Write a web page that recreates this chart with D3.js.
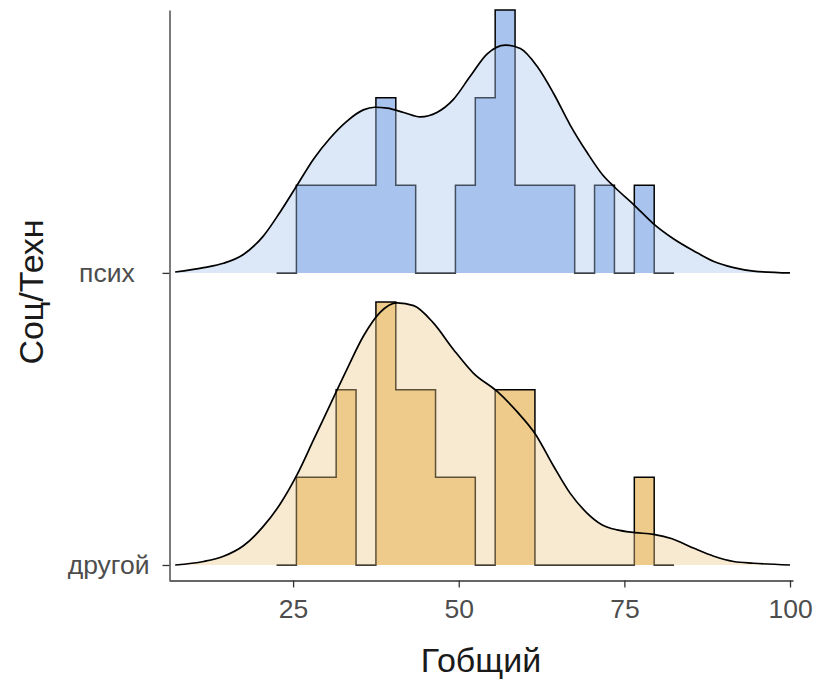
<!DOCTYPE html>
<html>
<head>
<meta charset="utf-8">
<script src="https://cdn.jsdelivr.net/npm/d3@7"></script>
<style>
  body { margin: 0; background: #fff; }
  text { font-family: "Liberation Sans", Arial, sans-serif; }
</style>
</head>
<body>
<div id="chart"></div>
<script>
// groups, bottom to top
const groups = ['другой', 'псих'];
const groupLabels = ['другой', 'псих  '];
const groupFill = ['#eecb8a', '#a8c4ee'];

// histogram (binline), binwidth 3, with empty pad bins at both ends
const binEdges = [22.5, 25.5, 28.5, 31.5, 34.5, 37.5, 40.5, 43.5, 46.5, 49.5, 52.5,
                  55.5, 58.5, 61.5, 64.5, 67.5, 70.5, 73.5, 76.5, 79.5, 82.5];
const countsOther = [0, 1, 1, 2, 0, 3, 2, 2, 1, 1, 0, 2, 2, 0, 0, 0, 0, 0, 1, 0];
const countsPsych = [0, 1, 1, 1, 1, 2, 1, 0, 0, 1, 2, 3, 1, 1, 1, 0, 1, 0, 1, 0];

// density ridges (height in histogram-count units)
const densXOther = [7.2, 11.5, 14.5, 17.5, 20.5, 23, 25.6, 28.1, 30.6, 33.1, 35.6, 38.1, 40.7,
                    43.2, 46.2, 49.2, 52.2, 55.8, 58.8, 61.6, 64.3, 66.8, 69.4, 71.6, 73.9,
                    76.6, 79.4, 82.2, 85.5, 88.5, 91.5, 94.5, 100];
const densOther = [0, 0.04, 0.10, 0.22, 0.44, 0.69, 1.03, 1.43, 1.83, 2.23, 2.61, 2.88, 2.99,
                   2.96, 2.76, 2.46, 2.19, 1.98, 1.75, 1.49, 1.13, 0.82, 0.59, 0.46, 0.40,
                   0.37, 0.35, 0.30, 0.19, 0.10, 0.04, 0.02, 0];
const densXPsych = [7.2, 11.5, 14.5, 17.5, 20.5, 23, 25.6, 28.1, 30.6, 33.1, 35.6, 37.3, 39.2,
                    41.7, 44.2, 46.7, 49.2, 51.7, 54.3, 57, 59.3, 61.8, 64.3, 66.8, 69.4,
                    71.7, 73.5, 76.4, 79.4, 82.4, 85.5, 88.5, 91.5, 94.5, 100];
const densPsych = [0.01, 0.06, 0.11, 0.21, 0.42, 0.69, 1.0, 1.30, 1.54, 1.73, 1.86, 1.89, 1.88,
                   1.83, 1.78, 1.83, 1.98, 2.24, 2.50, 2.60, 2.56, 2.36, 2.05, 1.69, 1.37,
                   1.12, 0.98, 0.78, 0.56, 0.39, 0.25, 0.13, 0.06, 0.02, 0];

const xTicks = [25, 50, 75, 100];
const xTitle = 'Гобщий';
const yTitle = 'Соц/Техн';

const width = 817, height = 682;
const svg = d3.select('#chart').append('svg')
    .attr('width', width)
    .attr('height', height);

const x = d3.scaleLinear().domain([6.27, 100.45]).range([169, 793]);
const y = d3.scaleLinear().domain([0.9486, 2.9]).range([580, 10]);
const h = d3.scaleLinear().domain([0, 3]).range([0, 0.9]); // count -> ridge units

const hists = [countsOther, countsPsych];
const dens = [[densXOther, densOther], [densXPsych, densPsych]];

// histogram layer
hists.forEach((counts, i) => {
    const pos = i + 1;
    const pts = binEdges.map((e, j) => [e, counts[Math.min(j, counts.length - 1)]]);
    const area = d3.area().curve(d3.curveStepAfter)
        .x(d => x(d[0])).y0(y(pos)).y1(d => y(pos + h(d[1])));
    const line = d3.line().curve(d3.curveStepAfter)
        .x(d => x(d[0])).y(d => y(pos + h(d[1])));
    svg.append('path').attr('d', area(pts)).attr('fill', groupFill[i]);
    svg.append('path').attr('d', line(pts))
        .attr('fill', 'none').attr('stroke', '#000').attr('stroke-width', 1.5);
});

// density layer
dens.forEach(([xs, ds], i) => {
    const pos = i + 1;
    const pts = xs.map((v, j) => [v, ds[j]]);
    const area = d3.area().curve(d3.curveMonotoneX)
        .x(d => x(d[0])).y0(y(pos)).y1(d => y(pos + h(d[1])));
    const line = d3.line().curve(d3.curveMonotoneX)
        .x(d => x(d[0])).y(d => y(pos + h(d[1])));
    svg.append('path').attr('d', area(pts))
        .attr('fill', groupFill[i]).attr('fill-opacity', 0.4);
    svg.append('path').attr('d', line(pts))
        .attr('fill', 'none').attr('stroke', '#000').attr('stroke-width', 1.7);
});

// axes
const xAxis = svg.append('g')
    .attr('transform', 'translate(0,580.5)')
    .call(d3.axisBottom(x).tickValues(xTicks).tickSize(7).tickSizeOuter(0).tickPadding(12));
const yAxis = svg.append('g')
    .attr('transform', 'translate(169.5,0)')
    .call(d3.axisLeft(y).tickValues([1, 2]).tickFormat(d => groupLabels[d - 1])
        .tickSize(7).tickSizeOuter(0).tickPadding(13));

[xAxis, yAxis].forEach(g => {
    g.select('.domain').attr('stroke', '#333').attr('stroke-width', 1.3);
    g.selectAll('.tick line').attr('stroke', '#333').attr('stroke-width', 1.3);
    g.selectAll('.tick text')
        .attr('fill', '#4d4d4d')
        .style('font-size', '26.5px')
        .style('white-space', 'pre');
});

svg.append('text')
    .attr('x', 481).attr('y', 672)
    .attr('text-anchor', 'middle')
    .style('font-size', '34px')
    .attr('fill', '#1a1a1a')
    .text(xTitle);

svg.append('text')
    .attr('transform', 'translate(43,292) rotate(-90)')
    .attr('text-anchor', 'middle')
    .style('font-size', '34px')
    .attr('fill', '#1a1a1a')
    .text(yTitle);
</script>
</body>
</html>
